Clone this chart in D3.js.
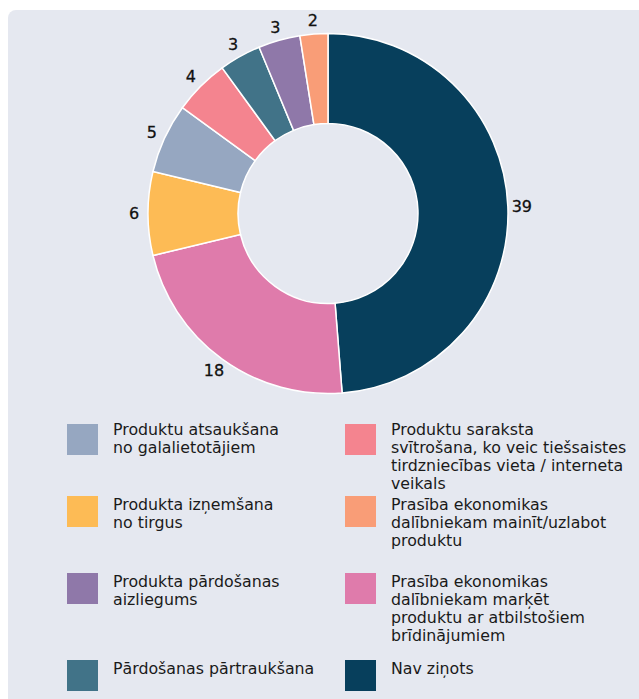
<!DOCTYPE html>
<html>
<head>
<meta charset="utf-8">
<script src="https://cdn.jsdelivr.net/npm/d3@7"></script>
<style>
  body { margin: 0; background: #fff; }
  svg { display: block; font-family: "DejaVu Sans", "Noto Sans", sans-serif; }
</style>
</head>
<body>
<script>
(function () {
    // slices, clockwise from 12 o'clock
    var categories = [
        'Nav ziņots',
        'Prasība ekonomikas\ndalībniekam marķēt\nproduktu ar atbilstošiem\nbrīdinājumiem',
        'Produkta izņemšana\nno tirgus',
        'Produktu atsaukšana\nno galalietotājiem',
        'Produktu saraksta\nsvītrošana, ko veic tiešsaistes\ntirdzniecības vieta / interneta\nveikals',
        'Pārdošanas pārtraukšana',
        'Produkta pārdošanas\naizliegums',
        'Prasība ekonomikas\ndalībniekam mainīt/uzlabot\nproduktu'
    ];
    var values = [39, 18, 6, 5, 4, 3, 3, 2];
    var colors = ['#073f5c', '#df7bab', '#fdbb55', '#96a7c1', '#f4848f', '#417388', '#8f78a9', '#f99d77'];

    // legend: left column then right column (indexes into categories)
    var legendLeft = [3, 2, 6, 5];
    var legendRight = [4, 7, 1, 0];

    var width = 639,
        height = 699,
        cx = 328,
        cy = 213.5,
        outerR = 180,
        innerR = 90,
        labelR = 194;

    var svg = d3.select('body').append('svg')
        .attr('width', width)
        .attr('height', height);

    svg.append('rect')
        .attr('x', 8)
        .attr('y', 10)
        .attr('width', width + 20)
        .attr('height', height + 20)
        .attr('rx', 8)
        .attr('fill', '#e5e8f0');

    var pie = d3.pie().sort(null).value(function (d) { return d; });
    var arc = d3.arc().innerRadius(innerR).outerRadius(outerR);
    var labelArc = d3.arc().innerRadius(labelR).outerRadius(labelR);
    var arcs = pie(values);

    var g = svg.append('g').attr('transform', 'translate(' + cx + ',' + cy + ')');

    g.selectAll('path')
        .data(arcs)
        .enter().append('path')
        .attr('d', arc)
        .attr('fill', function (d, i) { return colors[i]; })
        .attr('stroke', '#fff')
        .attr('stroke-width', 1.5);

    g.selectAll('text')
        .data(arcs)
        .enter().append('text')
        .attr('transform', function (d) { return 'translate(' + labelArc.centroid(d) + ')'; })
        .attr('text-anchor', 'middle')
        .attr('dy', '0.36em')
        .attr('font-size', 16)
        .attr('fill', '#111')
        .attr('stroke', '#111')
        .attr('stroke-width', 0.3)
        .text(function (d) { return d.value; });

    var rowY = [424, 496, 573, 660];

    function drawLegend(list, x) {
        var items = svg.append('g').selectAll('g')
            .data(list)
            .enter().append('g')
            .attr('transform', function (d, i) { return 'translate(' + x + ',' + rowY[i] + ')'; });

        items.append('rect')
            .attr('width', 31)
            .attr('height', 31)
            .attr('fill', function (d) { return colors[d]; });

        items.append('text')
            .attr('x', 46)
            .attr('y', function (d, i) { return i === 0 ? 5 : 8; })
            .attr('font-size', 15.8)
            .attr('fill', '#1a1a1a')
            .each(function (d) {
                var t = d3.select(this);
                categories[d].split('\n').forEach(function (line, j) {
                    t.append('tspan')
                        .attr('x', 46)
                        .attr('dy', j === 0 ? '0.36em' : 18)
                        .text(line);
                });
            });
    }

    drawLegend(legendLeft, 67);
    drawLegend(legendRight, 345);
}());
</script>
</body>
</html>
